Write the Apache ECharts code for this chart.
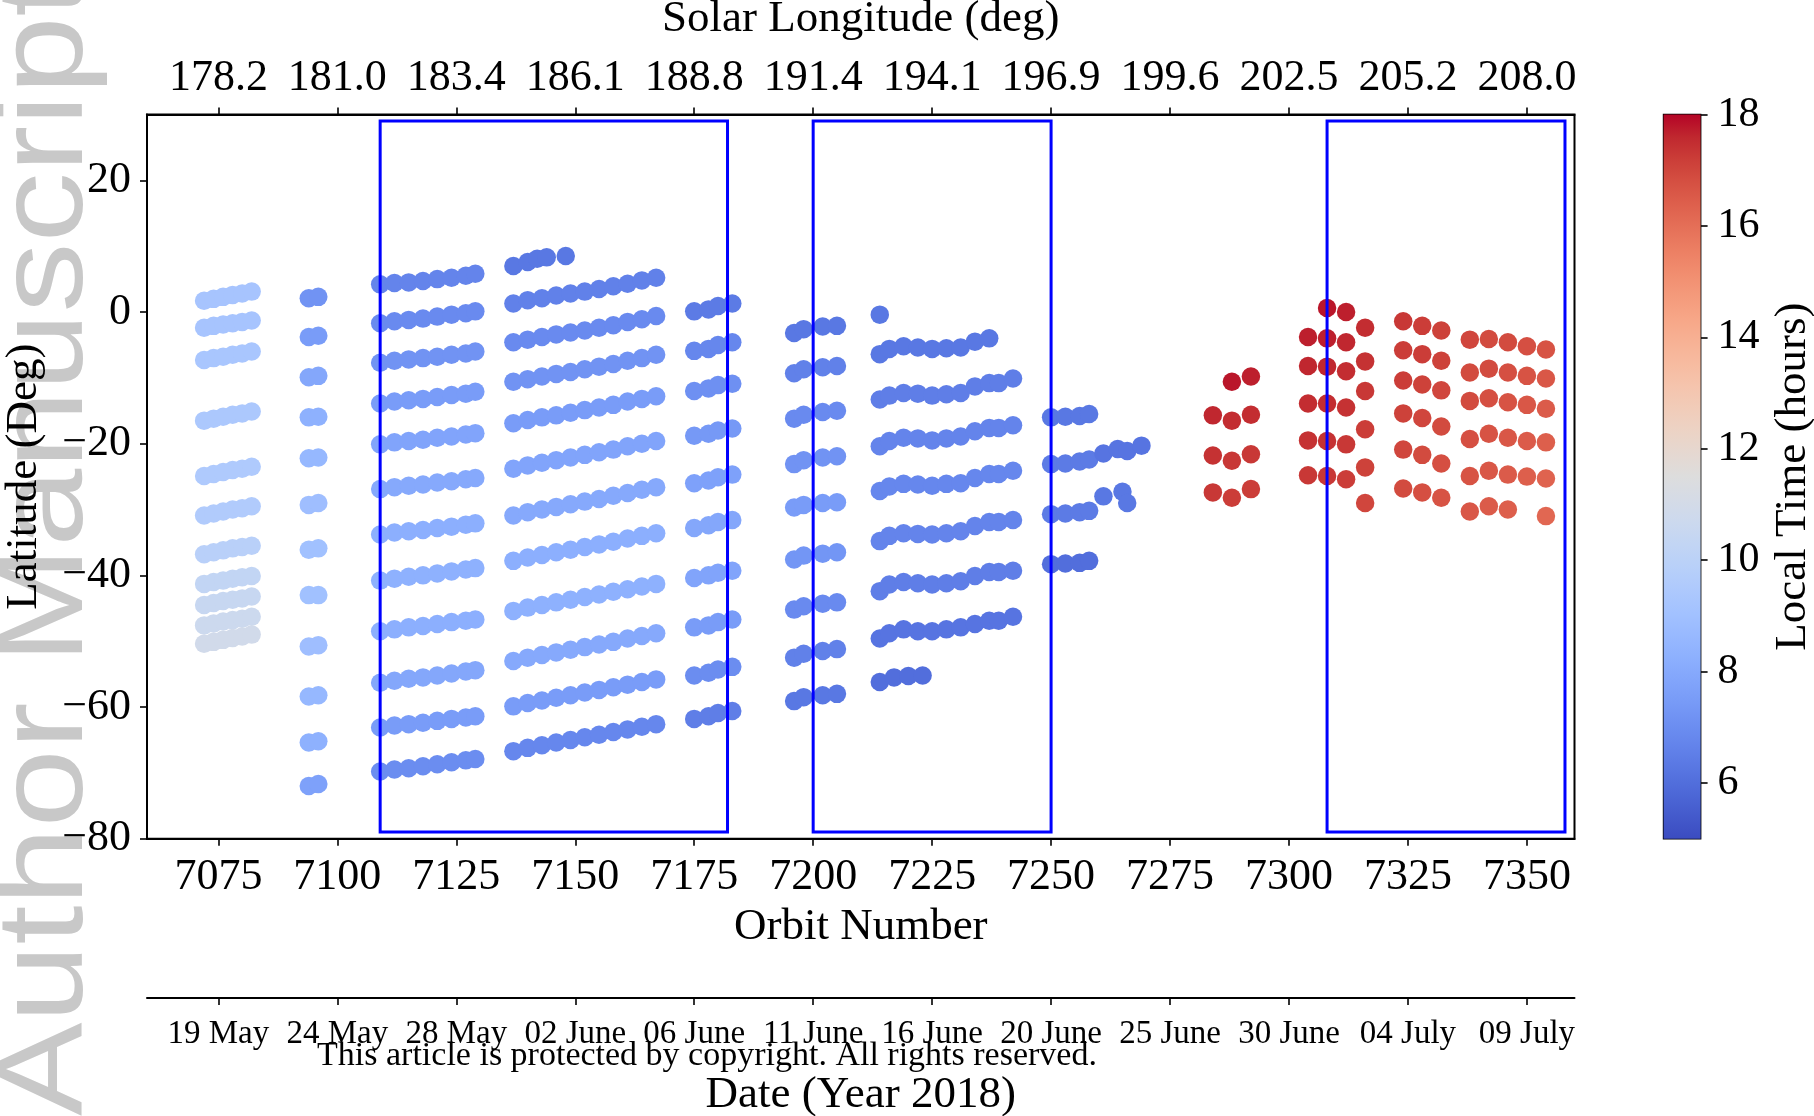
<!DOCTYPE html>
<html>
<head>
<meta charset="utf-8">
<script src="https://cdn.jsdelivr.net/npm/echarts@6/dist/echarts.min.js"></script>
<style>
  html, body { margin: 0; padding: 0; background: #ffffff; }
  #chart { width: 1814px; height: 1116px; }
</style>
</head>
<body>
<div id="chart"></div>
<script>
// ---- axis ticks and labels ----
const orbitTicks = [7075, 7100, 7125, 7150, 7175, 7200, 7225, 7250, 7275, 7300, 7325, 7350];
const solarLonLabels = ['178.2', '181.0', '183.4', '186.1', '188.8', '191.4', '194.1', '196.9', '199.6', '202.5', '205.2', '208.0'];
const dateLabels = ['19 May', '24 May', '28 May', '02 June', '06 June', '11 June', '16 June', '20 June', '25 June', '30 June', '04 July', '09 July'];
const latTicks = [-80, -60, -40, -20, 0, 20];
const ltTicks = [6, 8, 10, 12, 14, 16, 18];

// highlighted orbit windows [start, end] and their latitude extent
const boxSpans = [[7109, 7182], [7200, 7250], [7308, 7358]];
const boxLat = [-79, 29];

// ---- observation tracks: orbits, latitude per track row, local time per row ----
const pass1Orbits = [7072, 7074, 7076, 7078, 7080, 7082];
const pass1Lat = [
  [1.7, 2.0, 2.3, 2.6, 2.8, 3.1],
  [-2.4, -2.1, -1.9, -1.7, -1.5, -1.3],
  [-7.3, -7.0, -6.8, -6.5, -6.3, -6.0],
  [-16.5, -16.2, -15.9, -15.6, -15.4, -15.1],
  [-24.9, -24.6, -24.3, -24.0, -23.8, -23.5],
  [-30.9, -30.6, -30.3, -30.0, -29.8, -29.5],
  [-36.8, -36.5, -36.2, -35.9, -35.7, -35.5],
  [-41.3, -41.0, -40.8, -40.5, -40.3, -40.1],
  [-44.5, -44.2, -43.9, -43.7, -43.5, -43.2],
  [-47.6, -47.3, -47.0, -46.8, -46.6, -46.3],
  [-50.4, -50.1, -49.8, -49.5, -49.3, -49.0]
];
const pass1LT = [9.2, 9.2, 9.3, 9.4, 9.5, 9.6, 9.9, 10.3, 10.5, 10.7, 10.9];

const pass2Orbits = [7094, 7096];
const pass2Lat = [
  [2.1, 2.3], [-3.8, -3.6], [-9.9, -9.7], [-16.0, -15.9], [-22.2, -22.1], [-29.3, -29.0],
  [-36.1, -35.9], [-43.0, -43.0], [-50.8, -50.6], [-58.4, -58.2], [-65.4, -65.2], [-72.0, -71.7]
];
const pass2LT = [7.2, 7.5, 7.9, 8.3, 8.6, 8.9, 9.0, 9.0, 8.9, 8.6, 8.3, 7.7];

const pass3Orbits = [7109, 7112, 7115, 7118, 7121, 7124, 7127, 7129];
const pass3Lat = [
  [4.2, 4.4, 4.5, 4.7, 5.0, 5.2, 5.5, 5.8],
  [-1.7, -1.4, -1.2, -1.0, -0.7, -0.4, -0.2, 0.1],
  [-7.7, -7.4, -7.2, -7.0, -6.8, -6.5, -6.3, -6.0],
  [-13.9, -13.6, -13.4, -13.2, -12.9, -12.6, -12.4, -12.1],
  [-20.1, -19.8, -19.6, -19.4, -19.1, -18.9, -18.6, -18.4],
  [-26.9, -26.6, -26.4, -26.2, -25.9, -25.7, -25.4, -25.2],
  [-33.8, -33.5, -33.3, -33.1, -32.8, -32.6, -32.3, -32.1],
  [-40.8, -40.5, -40.2, -40.0, -39.7, -39.4, -39.1, -38.9],
  [-48.5, -48.2, -47.9, -47.7, -47.4, -47.1, -46.9, -46.7],
  [-56.3, -56.0, -55.7, -55.5, -55.2, -54.9, -54.6, -54.4],
  [-63.1, -62.8, -62.6, -62.4, -62.1, -61.8, -61.6, -61.4],
  [-69.8, -69.5, -69.3, -69.0, -68.7, -68.4, -68.1, -67.9]
];
const pass3LT = [6.7, 6.9, 7.2, 7.5, 7.8, 8.0, 8.2, 8.3, 8.2, 7.9, 7.5, 7.0];

const pass4TopOrbits = [7137, 7140, 7142, 7144, 7148];
const pass4TopLat = [[7.0, 7.6, 8.1, 8.3, 8.5]];
const pass4TopLT = [6.3];

const pass4Orbits = [7137, 7140, 7143, 7146, 7149, 7152, 7155, 7158, 7161, 7164, 7167];
const pass4Lat = [
  [1.3, 1.8, 2.1, 2.5, 2.8, 3.1, 3.5, 3.9, 4.3, 4.8, 5.2],
  [-4.6, -4.2, -3.8, -3.4, -3.1, -2.8, -2.4, -2.0, -1.5, -1.1, -0.6],
  [-10.6, -10.2, -9.8, -9.4, -9.1, -8.7, -8.3, -7.9, -7.4, -7.0, -6.5],
  [-16.9, -16.4, -16.0, -15.7, -15.3, -14.9, -14.5, -14.1, -13.6, -13.2, -12.8],
  [-23.8, -23.3, -22.9, -22.5, -22.1, -21.7, -21.3, -20.9, -20.4, -20.0, -19.6],
  [-30.9, -30.4, -30.0, -29.6, -29.2, -28.8, -28.4, -27.9, -27.5, -27.0, -26.6],
  [-37.8, -37.3, -36.9, -36.5, -36.1, -35.7, -35.3, -34.9, -34.4, -34.0, -33.6],
  [-45.4, -44.9, -44.5, -44.1, -43.7, -43.3, -42.9, -42.5, -42.1, -41.7, -41.3],
  [-53.0, -52.5, -52.1, -51.7, -51.3, -50.9, -50.5, -50.1, -49.6, -49.2, -48.8],
  [-59.9, -59.4, -59.0, -58.6, -58.2, -57.8, -57.4, -57.0, -56.6, -56.2, -55.8],
  [-66.7, -66.2, -65.8, -65.4, -65.0, -64.6, -64.2, -63.8, -63.4, -63.0, -62.6]
];
const pass4LT = [6.6, 6.9, 7.2, 7.5, 7.8, 8.0, 8.2, 8.3, 8.0, 7.5, 6.8];

const pass5Orbits = [7175, 7178, 7180, 7183];
const pass5Lat = [
  [0.1, 0.4, 0.9, 1.3],
  [-5.9, -5.6, -5.0, -4.6],
  [-12.0, -11.6, -11.1, -10.9],
  [-18.8, -18.5, -18.0, -17.7],
  [-26.0, -25.6, -25.1, -24.7],
  [-32.8, -32.4, -31.9, -31.6],
  [-40.4, -40.0, -39.6, -39.3],
  [-47.9, -47.6, -47.1, -46.7],
  [-55.2, -54.8, -54.3, -53.9],
  [-61.8, -61.4, -60.9, -60.6]
];
const pass5LT = [6.4, 6.8, 7.1, 7.4, 7.7, 7.9, 7.8, 7.5, 7.0, 6.5];

const pass6Orbits = [7196, 7198, 7202, 7205];
const pass6Lat = [
  [-3.2, -2.6, -2.2, -2.1],
  [-9.3, -8.7, -8.4, -8.2],
  [-16.2, -15.6, -15.2, -15.0],
  [-23.1, -22.5, -22.1, -21.9],
  [-29.7, -29.3, -29.0, -28.9],
  [-37.6, -37.0, -36.7, -36.5],
  [-45.2, -44.7, -44.3, -44.1],
  [-52.5, -51.9, -51.5, -51.2],
  [-59.1, -58.5, -58.2, -58.0]
];
const pass6LT = [6.3, 6.6, 6.9, 7.2, 7.5, 7.3, 6.9, 6.6, 6.3];

const pass7Single = [[7214, -0.4]];
const pass7SingleLT = [6.3];
const pass7Orbits = [7214, 7216, 7219, 7222, 7225, 7228, 7231, 7234, 7237, 7239, 7242];
const pass7Lat = [
  [-6.4, -5.6, -5.2, -5.4, -5.6, -5.5, -5.4, -4.5, -4.0],
  [-13.3, -12.7, -12.3, -12.4, -12.7, -12.5, -12.3, -11.3, -10.8, -10.8, -10.1],
  [-20.4, -19.6, -19.1, -19.2, -19.5, -19.2, -18.9, -18.1, -17.6, -17.6, -17.2],
  [-27.2, -26.5, -26.1, -26.2, -26.4, -26.1, -26.0, -25.2, -24.6, -24.6, -24.1],
  [-34.8, -34.0, -33.6, -33.7, -33.8, -33.6, -33.3, -32.5, -31.9, -31.9, -31.6],
  [-42.4, -41.4, -41.0, -41.2, -41.4, -41.2, -40.9, -40.1, -39.5, -39.5, -39.3],
  [-49.6, -48.8, -48.2, -48.5, -48.5, -48.2, -47.9, -47.4, -46.9, -46.9, -46.3]
];
const pass7LT = [6.3, 6.5, 6.7, 6.8, 6.7, 6.5, 6.2];
const pass7TailOrbits = [7214, 7217, 7220, 7223];
const pass7TailLat = [[-56.2, -55.5, -55.3, -55.2]];
const pass7TailLT = [6.0];

const pass8Orbits = [7250, 7253, 7256, 7258];
const pass8Lat = [
  [-16.0, -15.9, -15.8, -15.5],
  [-23.1, -23.0, -22.7, -22.4],
  [-30.7, -30.6, -30.4, -30.2],
  [-38.3, -38.2, -38.1, -37.8]
];
const pass8LT = [6.3, 6.4, 6.4, 6.0];
const pass8aOrbits = [7261, 7264, 7266, 7269];
const pass8aLat = [[-21.5, -20.8, -21.1, -20.3]];
const pass8aLT = [6.2];
const pass8bOrbits = [7261, 7265, 7266];
const pass8bLat = [[-28.0, -27.3, -29.0]];
const pass8bLT = [6.3];

// late-afternoon passes: one column of points per orbit
const redOrbits = [7284, 7288, 7292, 7304, 7308, 7312, 7316, 7324, 7328, 7332, 7338, 7342, 7346, 7350, 7354];
const redLat = [
  [-15.7, -21.8, -27.4],
  [-10.6, -16.5, -22.6, -28.2],
  [-9.8, -15.6, -21.6, -26.9],
  [-3.8, -8.2, -13.9, -19.5, -24.8],
  [0.6, -4.0, -8.3, -13.9, -19.6, -24.9],
  [0.0, -4.6, -9.0, -14.5, -20.1, -25.4],
  [-2.4, -7.5, -12.0, -17.8, -23.6, -29.0],
  [-1.4, -5.8, -10.4, -15.4, -20.9, -26.8],
  [-2.1, -6.4, -11.0, -16.1, -21.7, -27.4],
  [-2.8, -7.4, -11.9, -17.4, -23.0, -28.2],
  [-4.2, -9.2, -13.5, -19.3, -24.9, -30.3],
  [-4.1, -8.6, -13.1, -18.5, -24.1, -29.5],
  [-4.6, -9.2, -13.7, -19.1, -24.7, -30.0],
  [-5.2, -9.7, -14.1, -19.6, -25.0],
  [-5.7, -10.1, -14.7, -19.8, -25.3, -31.0]
];
const redLT = [
  [17.6, 17.4, 17.3],
  [17.8, 17.5, 17.3, 17.2],
  [17.7, 17.5, 17.3, 17.2],
  [17.7, 17.6, 17.5, 17.4, 17.3],
  [17.8, 17.7, 17.6, 17.5, 17.4, 17.3],
  [17.7, 17.6, 17.5, 17.4, 17.3, 17.2],
  [17.5, 17.4, 17.3, 17.2, 17.1, 17.0],
  [17.3, 17.2, 17.2, 17.1, 17.0, 16.9],
  [17.2, 17.2, 17.1, 17.0, 16.9, 16.8],
  [17.1, 17.1, 17.0, 16.9, 16.8, 16.7],
  [17.0, 16.9, 16.9, 16.8, 16.7, 16.6],
  [16.9, 16.9, 16.8, 16.7, 16.6, 16.5],
  [16.9, 16.8, 16.7, 16.6, 16.5, 16.4],
  [16.8, 16.7, 16.6, 16.5, 16.4],
  [16.7, 16.6, 16.5, 16.4, 16.3, 16.2]
];

// coolwarm colour map
const coolwarm = [
  [59,76,192],[68,90,204],[77,104,215],[87,117,225],[98,130,234],[108,142,241],[119,154,247],
  [130,165,251],[141,176,254],[152,185,255],[163,194,255],[174,201,253],[184,208,249],[194,213,244],
  [204,217,238],[213,219,230],[221,221,221],[229,216,209],[236,211,197],[241,204,185],[245,196,173],
  [247,187,160],[247,177,148],[247,166,135],[244,154,123],[241,141,111],[236,127,99],[229,112,88],
  [222,96,77],[213,80,66],[203,62,56],[192,40,47],[180,4,38]
].map(c => 'rgb(' + c.join(',') + ')');
const LT_MIN = 5, LT_MAX = 18;

// ---- build point list [orbit, latitude, local time] ----
function tracks(orbits, latRows, ltRows) {
  const pts = [];
  latRows.forEach((row, i) => row.forEach((lat, j) => pts.push([orbits[j], lat, ltRows[i]])));
  return pts;
}
let points = [];
points = points.concat(
  tracks(pass1Orbits, pass1Lat, pass1LT),
  tracks(pass2Orbits, pass2Lat, pass2LT),
  tracks(pass3Orbits, pass3Lat, pass3LT),
  tracks(pass4TopOrbits, pass4TopLat, pass4TopLT),
  tracks(pass4Orbits, pass4Lat, pass4LT),
  tracks(pass5Orbits, pass5Lat, pass5LT),
  tracks(pass6Orbits, pass6Lat, pass6LT),
  pass7Single.map((p, i) => [p[0], p[1], pass7SingleLT[i]]),
  tracks(pass7Orbits, pass7Lat, pass7LT),
  tracks(pass7TailOrbits, pass7TailLat, pass7TailLT),
  tracks(pass8Orbits, pass8Lat, pass8LT),
  tracks(pass8aOrbits, pass8aLat, pass8aLT),
  tracks(pass8bOrbits, pass8bLat, pass8bLT)
);
redOrbits.forEach((orb, i) => redLat[i].forEach((lat, j) => points.push([orb, lat, redLT[i][j]])));

// ---- layout ----
const SERIF = '"Liberation Serif", "DejaVu Serif", serif';
const plot = { left: 147, top: 114.5, width: 1427.5, height: 724.2 };
const X_MIN = 7060, X_MAX = 7360;
const black = '#000000';
const tickStyle = { color: black, width: 1.6 };
const plain = v => String(v);

const chart = echarts.init(document.getElementById('chart'), null, { renderer: 'canvas' });

const option = {
  animation: false,
  backgroundColor: '#ffffff',
  grid: [
    { left: plot.left, top: plot.top, width: plot.width, height: plot.height,
      outerBoundsMode: 'none', containLabel: false,
      show: true, borderColor: black, borderWidth: 2, backgroundColor: 'transparent' },
    { left: plot.left, top: 997, width: plot.width, height: 1,
      outerBoundsMode: 'none', containLabel: false, show: false },
    { left: 1663.6, top: plot.top, width: 37, height: plot.height,
      outerBoundsMode: 'none', containLabel: false,
      show: true, borderColor: black, borderWidth: 1.6, backgroundColor: 'transparent' }
  ],
  xAxis: [
    {
      gridIndex: 0, type: 'value', position: 'bottom', min: X_MIN, max: X_MAX,
      axisLine: { show: true, onZero: false, lineStyle: { color: black, width: 2 } },
      axisTick: { show: true, customValues: orbitTicks, length: 7, inside: false, lineStyle: tickStyle },
      axisLabel: { customValues: orbitTicks, color: black, fontFamily: SERIF, fontSize: 44, margin: 17, formatter: plain },
      splitLine: { show: false },
      name: 'Orbit Number', nameLocation: 'middle', nameGap: 66,
      nameTextStyle: { color: black, fontFamily: SERIF, fontSize: 45 }
    },
    {
      gridIndex: 0, type: 'value', position: 'top', min: X_MIN, max: X_MAX,
      axisLine: { show: true, onZero: false, lineStyle: { color: black, width: 2 } },
      axisTick: { show: true, customValues: orbitTicks, length: 7, inside: false, lineStyle: tickStyle },
      axisLabel: {
        customValues: orbitTicks, color: black, fontFamily: SERIF, fontSize: 44, margin: 14,
        formatter: v => solarLonLabels[orbitTicks.indexOf(v)] || ''
      },
      splitLine: { show: false },
      name: 'Solar Longitude (deg)', nameLocation: 'middle', nameGap: 73,
      nameTextStyle: { color: black, fontFamily: SERIF, fontSize: 45 }
    },
    {
      gridIndex: 1, type: 'value', position: 'bottom', min: X_MIN, max: X_MAX,
      axisLine: { show: true, onZero: false, lineStyle: { color: black, width: 2 } },
      axisTick: { show: true, customValues: orbitTicks, length: 7, inside: false, lineStyle: tickStyle },
      axisLabel: {
        customValues: orbitTicks, color: black, fontFamily: SERIF, fontSize: 33, margin: 20,
        formatter: v => dateLabels[orbitTicks.indexOf(v)] || ''
      },
      splitLine: { show: false },
      name: 'Date (Year 2018)', nameLocation: 'middle', nameGap: 75,
      nameTextStyle: { color: black, fontFamily: SERIF, fontSize: 45 }
    },
    {
      gridIndex: 2, type: 'value', min: 0, max: 1, show: false
    }
  ],
  yAxis: [
    {
      gridIndex: 0, type: 'value', min: -80, max: 30,
      axisLine: { show: true, onZero: false, lineStyle: { color: black, width: 2 } },
      axisTick: { show: true, customValues: latTicks, length: 7, inside: false, lineStyle: tickStyle },
      axisLabel: {
        customValues: latTicks, color: black, fontFamily: SERIF, fontSize: 44, margin: 16,
        formatter: v => String(v).replace('-', '\u2212')
      },
      splitLine: { show: false },
      name: 'Latitude (Deg)', nameLocation: 'middle', nameRotate: 90, nameGap: 100,
      nameTextStyle: { color: black, fontFamily: SERIF, fontSize: 45 }
    },
    { gridIndex: 1, type: 'value', show: false, min: 0, max: 1 },
    {
      gridIndex: 2, type: 'value', position: 'right', min: LT_MIN, max: LT_MAX,
      axisLine: { show: false, onZero: false },
      axisTick: { show: true, customValues: ltTicks, length: 7, inside: false, lineStyle: tickStyle },
      axisLabel: { customValues: ltTicks, color: black, fontFamily: SERIF, fontSize: 42, margin: 17, formatter: plain },
      splitLine: { show: false },
      name: 'Local Time (hours)', nameLocation: 'middle', nameRotate: 90, nameGap: 70,
      nameTextStyle: { color: black, fontFamily: SERIF, fontSize: 45 }
    }
  ],
  visualMap: {
    type: 'continuous', show: false, min: LT_MIN, max: LT_MAX, dimension: 2,
    seriesIndex: 0, inRange: { color: coolwarm }
  },
  series: [
    {
      type: 'scatter', xAxisIndex: 0, yAxisIndex: 0,
      symbol: 'circle', symbolSize: 18.5, data: points, z: 2,
      itemStyle: { opacity: 1 }, emphasis: { disabled: true }
    },
    {
      // highlighted orbit windows
      type: 'custom', xAxisIndex: 0, yAxisIndex: 0, z: 5,
      data: boxSpans,
      renderItem: (params, api) => {
        const p0 = api.coord([api.value(0), boxLat[1]]);
        const p1 = api.coord([api.value(1), boxLat[0]]);
        return {
          type: 'rect',
          shape: { x: p0[0], y: p0[1], width: p1[0] - p0[0], height: p1[1] - p0[1] },
          style: { fill: 'none', stroke: '#0000ff', lineWidth: 3 }
        };
      }
    },
    {
      // colour bar
      type: 'custom', xAxisIndex: 3, yAxisIndex: 2, z: 1,
      data: [[0, LT_MIN]],
      renderItem: (params, api) => {
        const top = api.coord([0, LT_MAX]);
        const bottom = api.coord([1, LT_MIN]);
        const stops = coolwarm.map((c, i) => ({ offset: i / (coolwarm.length - 1), color: c }));
        return {
          type: 'rect',
          shape: { x: top[0], y: top[1], width: bottom[0] - top[0], height: bottom[1] - top[1] },
          style: { fill: new echarts.graphic.LinearGradient(0, 1, 0, 0, stops) }
        };
      }
    }
  ],
  graphic: [
    {
      type: 'text', x: 48, y: 1116, rotation: Math.PI / 2, scaleX: 1.15, z: -10,
      style: {
        text: 'Author Manuscript', fontSize: 122, fontFamily: '"Liberation Sans", Arial, sans-serif',
        fill: '#c8c8c8', align: 'left', verticalAlign: 'middle'
      }
    },
    {
      type: 'text', x: 707, y: 1056, z: 100,
      style: {
        text: 'This article is protected by copyright. All rights reserved.',
        fontSize: 34, fontFamily: SERIF, fill: '#000000', align: 'center', verticalAlign: 'middle'
      }
    }
  ]
};

chart.setOption(option);
</script>
</body>
</html>
